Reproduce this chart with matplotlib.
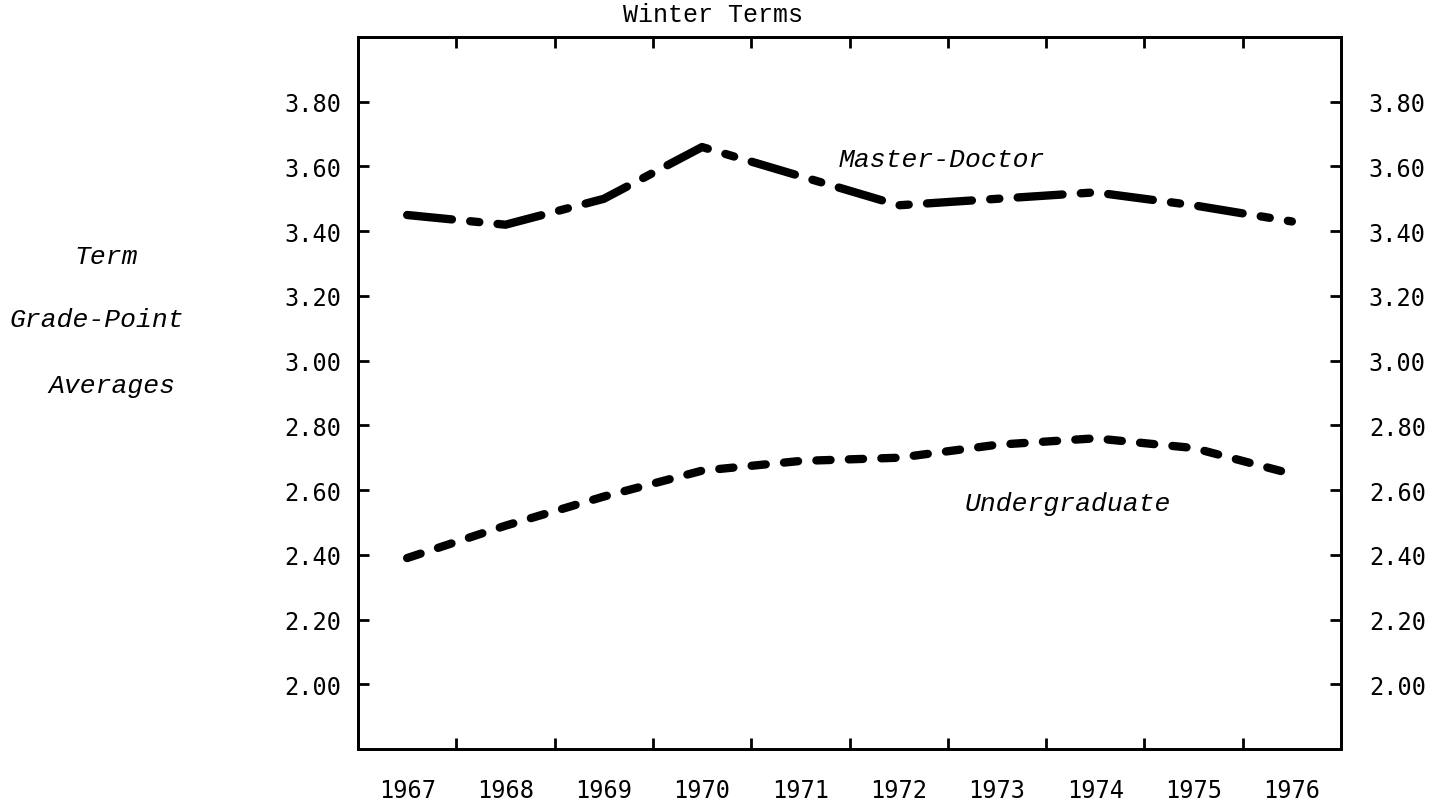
import matplotlib
matplotlib.use("Agg")
import matplotlib.pyplot as plt
import numpy as np

# ---- data ----
years = ["1967", "1968", "1969", "1970", "1971", "1972", "1973", "1974", "1975", "1976"]
master_doctor = [3.45, 3.42, 3.50, 3.66, 3.57, 3.48, 3.50, 3.52, 3.48, 3.43]
undergraduate = [2.39, 2.49, 2.58, 2.66, 2.69, 2.70, 2.74, 2.76, 2.73, 2.65]
ytick_vals = [2.00, 2.20, 2.40, 2.60, 2.80, 3.00, 3.20, 3.40, 3.60, 3.80]
ytick_labels = ["2.00", "2.20", "2.40", "2.60", "2.80", "3.00", "3.20", "3.40", "3.60", "3.80"]

W, H = 1452, 804
fig = plt.figure(figsize=(W / 100, H / 100), dpi=100)
fig.patch.set_facecolor("white")

left, right, top, bottom = 358, 1341, 38, 750
ax = fig.add_axes([left / W, 1 - bottom / H, (right - left) / W, (bottom - top) / H])

n = len(years)
xpos = np.arange(n) + 0.5

ax.plot(xpos, master_doctor, color="black", lw=6, solid_capstyle="round",
        dash_capstyle="round", dashes=(5.4, 2.2, 1.1, 2.2))
ax.plot(xpos, undergraduate, color="black", lw=6, solid_capstyle="round",
        dash_capstyle="round", dashes=(1.7, 2.2))

ax.set_xlim(0, n)
ax.set_ylim(1.8, 4.0)

mono = "DejaVu Sans Mono"
typew = "Liberation Mono"

# x ticks: marks between columns, labels at column centres
ax.set_xticks(np.arange(1, n))
ax.set_xticklabels([])
ax.set_xticks(xpos, minor=True)
ax.set_xticklabels(years, minor=True, fontsize=17, family=mono)
ax.tick_params(axis="x", which="major", direction="in", length=8, width=2,
               top=True, bottom=True)
ax.tick_params(axis="x", which="minor", length=0, pad=21)

ax.set_yticks(ytick_vals)
ax.set_yticklabels(ytick_labels, fontsize=17, family=mono)
ax.tick_params(axis="y", direction="in", length=8, width=2, pad=12)

ax2 = ax.twinx()
ax2.set_ylim(ax.get_ylim())
ax2.set_yticks(ytick_vals)
ax2.set_yticklabels(ytick_labels, fontsize=17, family=mono)
ax2.tick_params(axis="y", direction="in", length=8, width=2, pad=20)

for a in (ax, ax2):
    for s in a.spines.values():
        s.set_linewidth(2)

# titles and labels
fig.text(713 / W, 1 - 15 / H, "Winter Terms", ha="center", va="center",
         fontsize=18, family=typew)
fig.text(106 / W, 1 - 257 / H, "Term", ha="center", va="center",
         fontsize=19, family=typew, style="italic")
fig.text(97 / W, 1 - 320 / H, "Grade-Point", ha="center", va="center",
         fontsize=19, family=typew, style="italic")
fig.text(112 / W, 1 - 386 / H, "Averages", ha="center", va="center",
         fontsize=19, family=typew, style="italic")

fig.text(942 / W, 1 - 160 / H, "Master-Doctor", fontsize=19,
         family=typew, style="italic", ha="center", va="center")
fig.text(1068 / W, 1 - 504 / H, "Undergraduate", fontsize=19,
         family=typew, style="italic", ha="center", va="center")

fig.savefig("out.png", dpi=100, facecolor="white")
